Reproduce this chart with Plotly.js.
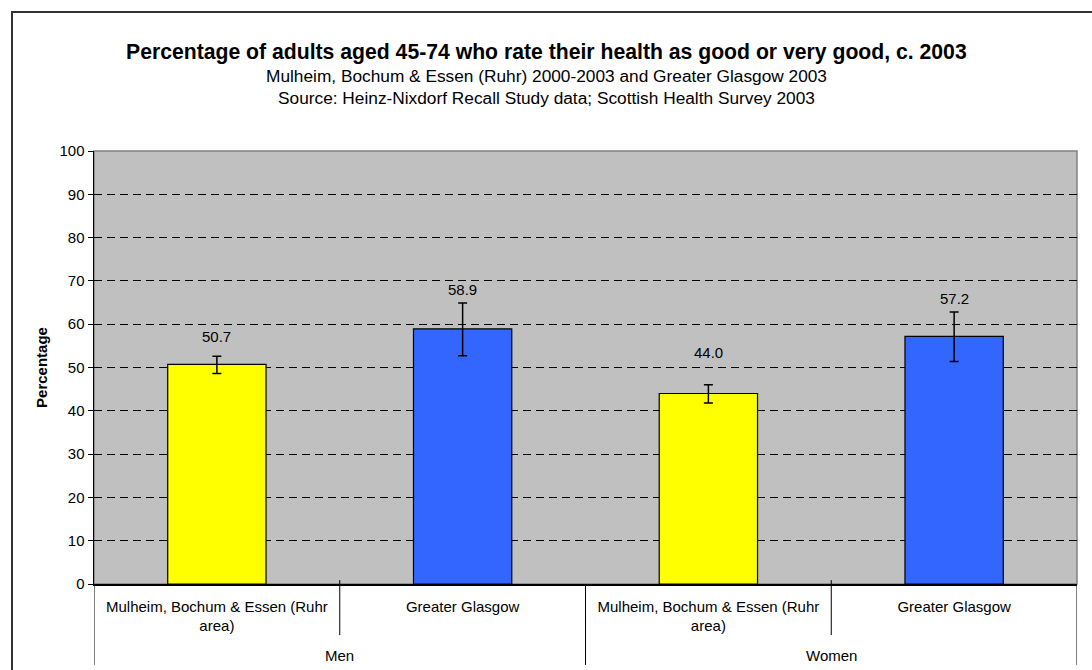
<!DOCTYPE html>
<html>
<head>
<meta charset="utf-8">
<script src="https://cdn.plot.ly/plotly-3.0.1.min.js"></script>
<style>html,body{margin:0;padding:0;background:#fff;}#chart{width:1092px;height:670px;}</style>
</head>
<body>
<div id="chart"></div>
<script>
// Data
const titleLines = [
  "Percentage of adults aged 45-74 who rate their health as good or very good, c. 2003",
  "Mulheim, Bochum & Essen (Ruhr) 2000-2003 and Greater Glasgow 2003",
  "Source: Heinz-Nixdorf Recall Study data; Scottish Health Survey 2003"
];
const groups = ["Men", "Men", "Women", "Women"];
const areas = ["Mulheim, Bochum & Essen (Ruhr<br>area)", "Greater Glasgow", "Mulheim, Bochum & Essen (Ruhr<br>area)", "Greater Glasgow"];
const values = [50.7, 58.9, 44.0, 57.2];
const ciUpper = [52.6, 64.9, 46.0, 62.8];
const ciLower = [48.6, 52.7, 41.8, 51.4];
const barColors = ["#ffff00", "#3366ff", "#ffff00", "#3366ff"];
const groupLabels = ["Men", "Women"];
const yTicks = [0, 10, 20, 30, 40, 50, 60, 70, 80, 90, 100];

const idx = values.map((_, i) => i);
const errPlus = values.map((v, i) => +(ciUpper[i] - v).toFixed(2));
const errMinus = values.map((v, i) => +(v - ciLower[i]).toFixed(2));

const font = "Arial, 'Liberation Sans', sans-serif";
const FS = 15;
// pixel offsets of value labels above the error-bar caps (style only)
const labelShiftPx = [9, 3, 22, 3];

const trace = {
  type: "bar",
  x: idx,
  y: values,
  width: 0.4,
  marker: { color: barColors, line: { color: "#000", width: 1.2 } },
  error_y: { type: "data", symmetric: false, array: errPlus, arrayminus: errMinus,
             color: "#000", thickness: 1.5, width: 4.5 },
  hoverinfo: "skip"
};

const annotations = values.map((v, i) => ({
  x: i, y: ciUpper[i], xref: "x", yref: "y", text: v.toFixed(1),
  showarrow: false, yanchor: "bottom", yshift: labelShiftPx[i],
  font: { family: font, size: FS, color: "#000" }
}));

// title lines (centered on the page)
const titleY = [1.2286, 1.1732, 1.1224];
const pageCenterX = (546 - 94) / 983;
titleLines.forEach((t, i) => {
  annotations.push({ x: pageCenterX, y: titleY[i], xref: "paper", yref: "paper",
    text: i === 0 ? "<b>" + t + "</b>" : t, showarrow: false,
    xanchor: "center", yanchor: "middle",
    font: { family: font, size: i === 0 ? 21.2 : 17.3, color: "#000" } });
});

// group labels (centered over each pair of categories)
groupLabels.forEach((g) => {
  const members = idx.filter(i => groups[i] === g);
  const cx = (members[0] + members[members.length - 1]) / 2;
  annotations.push({ x: cx, y: -0.164, xref: "x", yref: "paper", text: g,
    showarrow: false, yanchor: "middle", font: { family: font, size: FS, color: "#000" } });
});

const shapes = [];
// inner dividers between categories (short), and group dividers (long)
for (let b = 0; b <= values.length; b++) {
  const pos = b - 0.5;
  const isGroupEdge = b === 0 || b === values.length || groups[b] !== groups[b - 1];
  shapes.push({ type: "line", xref: "x", yref: "paper", x0: pos, x1: pos,
    y0: isGroupEdge ? -0.187 : -0.118, y1: isGroupEdge ? 0 : 0.009,
    line: { color: "#000", width: 1 } });
}
// outer chart frame
shapes.push({ type: "rect", xref: "paper", yref: "paper",
  x0: (12 - 94) / 983, x1: (1110 - 94) / 983, y0: -0.3, y1: (584 - 12) / 433,
  line: { color: "#333", width: 2 }, fillcolor: "rgba(0,0,0,0)" });
// plot area border (right/top gray)
shapes.push({ type: "rect", xref: "paper", yref: "paper", x0: 0, x1: 1, y0: 0, y1: 1,
  line: { color: "#808080", width: 1.5 }, fillcolor: "rgba(0,0,0,0)", layer: "below" });

const layout = {
  width: 1092, height: 670,
  margin: { l: 94, r: 15, t: 151, b: 86 },
  paper_bgcolor: "#ffffff",
  plot_bgcolor: "#c0c0c0",
  showlegend: false,
  xaxis: {
    range: [-0.5, values.length - 0.5],
    tickvals: idx, ticktext: areas,
    ticks: "", showgrid: false, zeroline: false,
    showline: true, linecolor: "#000", linewidth: 1.5,
    ticklabelstandoff: 8,
    tickfont: { family: font, size: FS, color: "#000" },
    fixedrange: true
  },
  yaxis: {
    range: [0, 100], tickvals: yTicks,
    ticks: "outside", ticklen: 5, tickcolor: "#000",
    showgrid: true, gridcolor: "#000", griddash: "8px,5px", gridwidth: 1,
    zeroline: false, showline: true, linecolor: "#000", linewidth: 1.5,
    tickfont: { family: font, size: FS, color: "#000" },
    title: { text: "<b>Percentage</b>", font: { family: font, size: FS, color: "#000" }, standoff: 8 },
    fixedrange: true
  },
  annotations: annotations,
  shapes: shapes
};

Plotly.newPlot("chart", [trace], layout, { displayModeBar: false, staticPlot: true });
</script>
</body>
</html>
